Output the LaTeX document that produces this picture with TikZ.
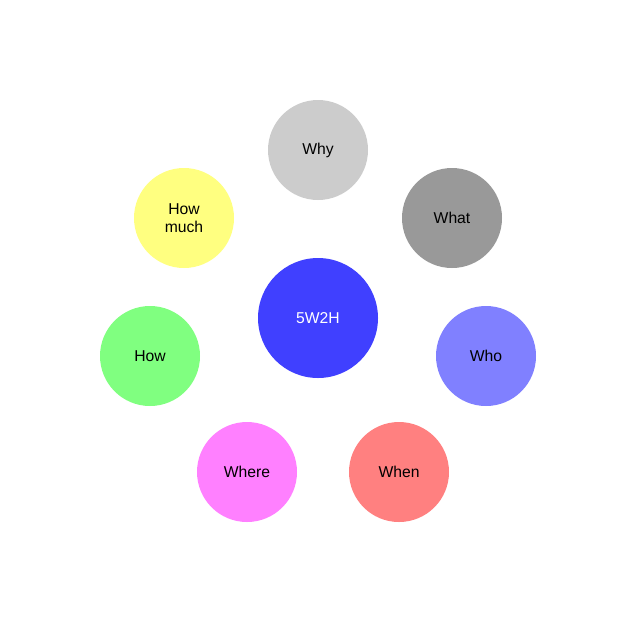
\documentclass[tikz,border=0pt]{standalone}
\usepackage{fontspec}
\setmainfont{Liberation Sans}
\definecolor{hub}{RGB}{64, 64, 255}
\definecolor{whyc}{RGB}{204, 204, 204}
\definecolor{whatc}{RGB}{153, 153, 153}
\definecolor{whoc}{RGB}{128, 128, 255}
\definecolor{whenc}{RGB}{255, 128, 128}
\definecolor{wherec}{RGB}{255, 128, 255}
\definecolor{howc}{RGB}{128, 255, 128}
\definecolor{muchc}{RGB}{255, 255, 128}
\usepackage{tikz}

\begin{document}
\begin{tikzpicture}[x=1pt, y=-1pt,
    bubble/.style={circle, minimum size=100pt, inner sep=0pt, align=center,
        font=\fontsize{15.7}{18}\selectfont}]
    \useasboundingbox (0,0) rectangle (636,622);

    % Centre
    \node[bubble, fill=hub, minimum size=120pt, text=white] (core) at (318,318) {5W2H};

    % Questions around it
    \node[bubble, fill=whyc]   (why)   at (318,150) {Why};
    \node[bubble, fill=whatc]  (what)  at (452,218) {What};
    \node[bubble, fill=whoc]   (who)   at (486,356) {Who};
    \node[bubble, fill=whenc]  (when)  at (399,472) {When};
    \node[bubble, fill=wherec] (where) at (247,472) {Where};
    \node[bubble, fill=howc]   (how)   at (150,356) {How};
    \node[bubble, fill=muchc]  (much)  at (184,218) {How\\much};
\end{tikzpicture}
\end{document}
